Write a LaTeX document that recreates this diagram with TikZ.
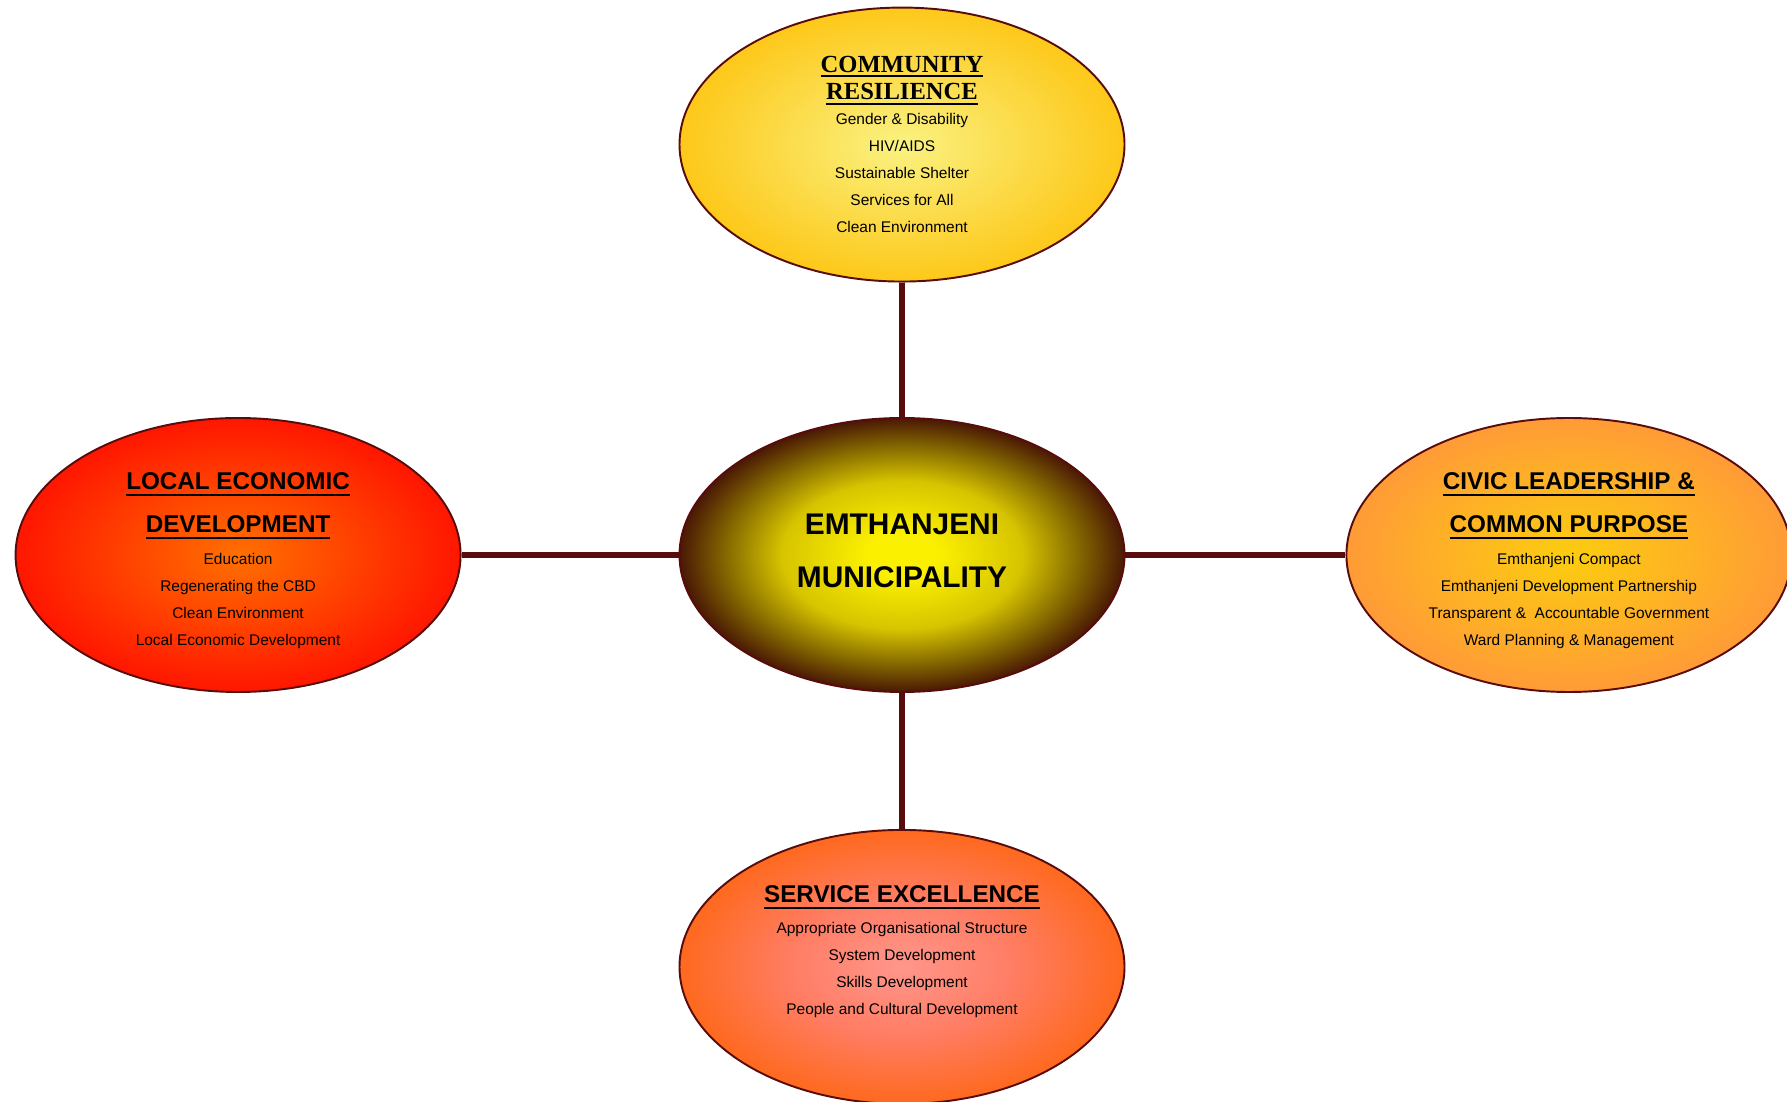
\documentclass[tikz,border=0pt]{standalone}
\usepackage{fontspec}
\setmainfont{Liberation Sans}
\newfontfamily\timesfont{Liberation Serif}
\usetikzlibrary{positioning,shapes.geometric}
\definecolor{embrown}{RGB}{88,12,12}
\definecolor{hubin}{RGB}{251,240,0}
\definecolor{hubmid}{RGB}{215,196,0}
\definecolor{hubdark}{RGB}{130,102,0}
\definecolor{hubout}{RGB}{74,24,5}
\definecolor{resin}{RGB}{250,242,130}
\definecolor{resout}{RGB}{253,200,25}
\definecolor{ledin}{RGB}{255,112,0}
\definecolor{ledout}{RGB}{255,22,0}
\definecolor{civin}{RGB}{252,205,15}
\definecolor{civout}{RGB}{255,155,55}
\definecolor{servin}{RGB}{255,150,140}
\definecolor{servmid}{RGB}{255,125,100}
\definecolor{servout}{RGB}{255,105,30}
\pgfdeclareradialshading{hubglow}{\pgfpoint{0bp}{0bp}}{color(0bp)=(hubin); color(4bp)=(hubin); color(13.5bp)=(hubmid); color(20bp)=(hubdark); color(25bp)=(hubout); color(50bp)=(hubout)}
\pgfdeclareradialshading{resglow}{\pgfpoint{0bp}{0bp}}{color(0bp)=(resin); color(25bp)=(resout); color(50bp)=(resout)}
\pgfdeclareradialshading{ledglow}{\pgfpoint{0bp}{0bp}}{color(0bp)=(ledin); color(25bp)=(ledout); color(50bp)=(ledout)}
\pgfdeclareradialshading{civglow}{\pgfpoint{0bp}{0bp}}{color(0bp)=(civin); color(25bp)=(civout); color(50bp)=(civout)}
\pgfdeclareradialshading{servglow}{\pgfpoint{0bp}{0bp}}{color(0bp)=(servin); color(12.5bp)=(servmid); color(25bp)=(servout); color(50bp)=(servout)}
\newcommand{\itemfont}{\fontsize{8.8}{15.4}\selectfont}
\newsavebox{\headbox}
\newcommand{\ulhead}[2][0.13cm]{\sbox{\headbox}{#2}\rlap{\rule[-#1]{\wd\headbox}{0.04cm}}\usebox{\headbox}}
\newcommand{\sanshead}[1]{{\fontsize{13.8}{15.4}\selectfont\bfseries\ulhead{#1}}}
\newcommand{\reshead}[1]{{\timesfont\bfseries\fontsize{14}{15.4}\selectfont\ulhead[0.1cm]{#1}}}

\begin{document}
\begin{tikzpicture}[
  goal/.style={ellipse, draw=embrown, line width=1.1pt, minimum width=8.9cm, minimum height=5.48cm, inner sep=0pt},
  goaltext/.style={align=center, font=\itemfont, inner sep=0pt},
  link/.style={draw=embrown, line width=3pt}]
  \useasboundingbox (0,0) rectangle (35.74,22.02);

  % the municipality and its four goals
  \node[goal, shading=hubglow] (hub) at (18.04,10.92) {};
  \node[goal, shading=resglow, above=2.69cm of hub] (res) {};
  \node[goal, shading=ledglow, left=4.34cm of hub] (led) {};
  \node[goal, shading=civglow, right=4.4cm of hub] (civ) {};
  \node[goal, shading=servglow, below=2.72cm of hub] (serv) {};

  \draw[link] (res) -- (hub);
  \draw[link] (led) -- (hub);
  \draw[link] (civ) -- (hub);
  \draw[link] (serv) -- (hub);

  \node[align=center, font=\fontsize{17}{30.2}\selectfont\bfseries, inner sep=0pt, yshift=0.08cm] (hubtxt) at (hub) {EMTHANJENI\\MUNICIPALITY};

  \node[goaltext] (restxt) at (res) {\reshead{COMMUNITY}\\\reshead{RESILIENCE}\\[-1.2pt]Gender \& Disability\\HIV/AIDS\\Sustainable Shelter\\Services for All\\Clean Environment};

  \node[goaltext, yshift=-0.12cm] (ledtxt) at (led) {\sanshead{LOCAL ECONOMIC}\\[9.1pt]\sanshead{DEVELOPMENT}\\[2.8pt]Education\\Regenerating the CBD\\Clean Environment\\Local Economic Development};

  \node[goaltext, yshift=-0.12cm] (civtxt) at (civ) {\sanshead{CIVIC LEADERSHIP \&}\\[9.1pt]\sanshead{COMMON PURPOSE}\\[2.8pt]Emthanjeni Compact\\Emthanjeni Development Partnership\\Transparent \& \ Accountable Government\\Ward Planning \& Management};

  \node[goaltext, yshift=0.3cm] (servtxt) at (serv) {\sanshead{SERVICE EXCELLENCE}\\[2.2pt]Appropriate Organisational Structure\\System Development\\Skills Development\\People and Cultural Development};
\end{tikzpicture}
\end{document}
